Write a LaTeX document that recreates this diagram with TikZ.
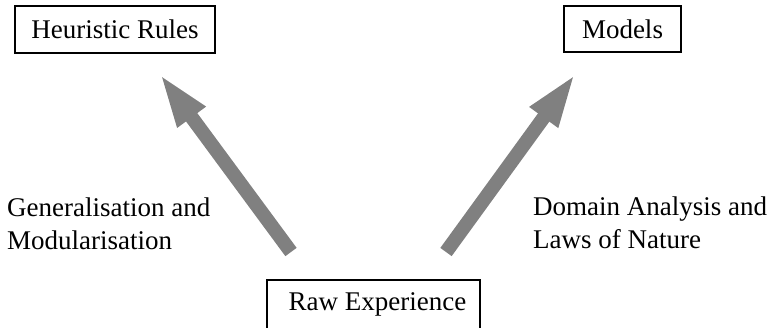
\documentclass[tikz,border=0pt]{standalone}
\usepackage{fontspec}
\setmainfont{Liberation Serif}
\usetikzlibrary{arrows.meta}
\definecolor{arrowgray}{RGB}{128,128,128}
\tikzset{
  boxnode/.style={draw=black, line width=1.6pt, inner sep=0pt, text height=18pt, text depth=0pt,
    font=\fontsize{27}{33}\selectfont},
  labelnode/.style={inner sep=0pt, align=left, anchor=north west,
    font=\fontsize{27}{33.5}\selectfont},
  bigarrow/.style={draw=arrowgray, line width=14pt, line cap=butt,
    -{Triangle[length=55pt,width=31pt]}}
}
\begin{document}
\begin{tikzpicture}[x=1pt,y=-1pt]
\useasboundingbox (0,0) rectangle (771,327);
\node[boxnode, minimum width=200pt, minimum height=47pt] (hr) at (115,29.5) {Heuristic Rules};
\node[boxnode, minimum width=117pt, minimum height=46pt] (mo) at (622.5,29) {Models};
\node[boxnode, minimum width=213pt, minimum height=52pt, text height=8pt] (re) at (373.5,306) {\hspace*{8pt}Raw Experience};
\node[labelnode] (gl) at (7,197.5) {Generalisation and\\Modularisation};
\node[labelnode] (dl) at (533,196.5) {Domain Analysis and\\Laws of Nature};
\coordinate (lt) at (291,252);
\coordinate (lh) at (159,73);
\coordinate (rt) at (446,252);
\coordinate (rh) at (576,73);
\draw[bigarrow] (lt) -- (lh);
\draw[bigarrow] (rt) -- (rh);
\end{tikzpicture}
\end{document}
